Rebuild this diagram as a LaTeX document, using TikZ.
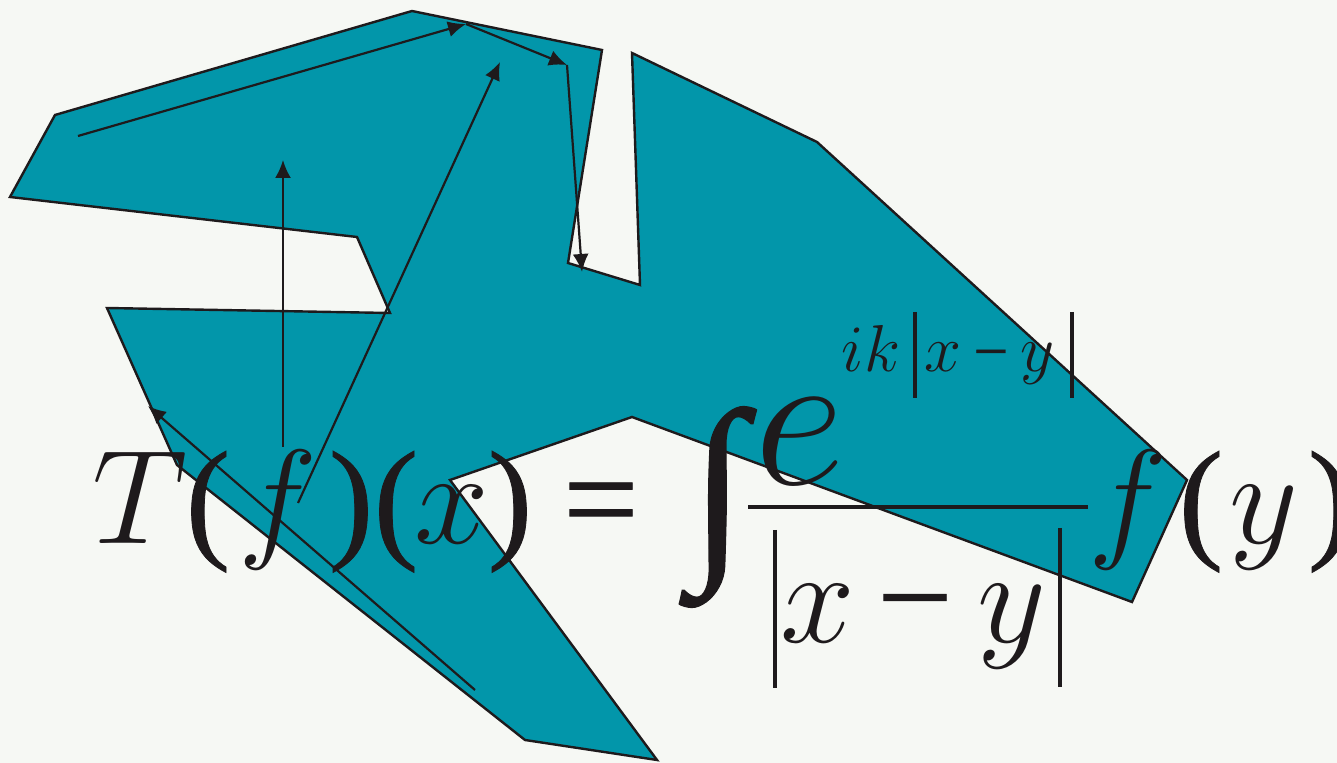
\documentclass[tikz,border=0pt]{standalone}
\usepackage{fontspec}
\newfontfamily\eqfont[FakeBold=0.6]{Liberation Serif}
\usetikzlibrary{arrows.meta}
\definecolor{tealfill}{RGB}{2,150,170}
\definecolor{paper}{RGB}{246,248,244}
\definecolor{inkc}{RGB}{30,26,28}
\newcommand{\mgl}[2]{\scalebox{#1}{\fontsize{20.74}{20.74}\selectfont$#2$}}
\begin{document}
\begin{tikzpicture}[x=0.5pt,y=-0.5pt,
  outline/.style={draw=inkc, line width=1.2pt, line join=miter},
  arr/.style={draw=inkc, line width=1.1pt, -{Latex[length=9pt,width=8pt]}},
  big/.style={text=inkc, inner sep=0pt, anchor=base},
  bigup/.style={font=\fontsize{67}{67}\eqfont, text=inkc, inner sep=0pt, anchor=base},
  supu/.style={font=\fontsize{31}{31}\eqfont, text=inkc, inner sep=0pt, anchor=base},
  barl/.style={draw=inkc, line width=1.7pt},
]
\useasboundingbox (0,0) rectangle (1337,763);
\fill[paper] (0,0) rectangle (1337,763);
\clip (0,0) rectangle (1337,763);

% teal polygon
\filldraw[fill=tealfill, outline]
  (412,11) -- (602,50) -- (568,263) -- (640,285) -- (632,53) -- (817,142)
  -- (1187,480) -- (1132,602) -- (632,417) -- (450,480) -- (657,760)
  -- (525,740) -- (177,465) -- (107,308) -- (390,313) -- (357,237)
  -- (10,197) -- (55,115) -- cycle;

% arrow end points
\coordinate (a1s) at (78,136);
\coordinate (a1e) at (466,24);
\coordinate (a2e) at (567,65);
\coordinate (a3e) at (582,272);
\coordinate (a4s) at (298,503);
\coordinate (a4e) at (500,62);
\coordinate (a5s) at (283,447);
\coordinate (a5e) at (283,160);
\coordinate (a6s) at (475,690);
\coordinate (a6e) at (148,406);

\draw[arr] (a1s) -- (a1e);
\draw[arr] (a1e) -- (a2e);
\draw[arr] (a2e) -- (a3e);
\draw[arr] (a4s) -- (a4e);
\draw[arr] (a5s) -- (a5e);
\draw[arr] (a6s) -- (a6e);

% formula: left side
\node[big]   (T)  at (140,544) {\mgl{3.23}{T}};
\node[bigup] (p1) at (208,544) {(};
\node[big]   (f1) at (278,544) {\mgl{3.23}{f}};
\node[bigup] (p2) at (351,544) {)};
\node[bigup] (p3) at (396,544) {(};
\node[big]   (x1) at (452,544) {\mgl{3.23}{x}};
\node[bigup] (p4) at (510,544) {)};
\node[bigup] (eq) at (601,544) {=};

% integral
\node[text=inkc, inner sep=0pt] (int) at (718,507)
  {\resizebox*{28pt}{100.5pt}{\fontsize{67}{67}\eqfont ∫}};

% numerator
\node[big] (e) at (800,485) {\mgl{4.8}{e}};
\node[big] (ik) at (871,372) {\mgl{1.6}{ik}};
\node[big] (sx) at (943,372) {\mgl{1.6}{x}};
\node[supu] (sm) at (991,372) {−};
\node[big] (sy) at (1038,372) {\mgl{1.6}{y}};
\coordinate (sb1t) at (915,312);
\coordinate (sb1b) at (915,398);
\coordinate (sb2t) at (1072,312);
\coordinate (sb2b) at (1072,398);
\draw[barl] (sb1t) -- (sb1b);
\draw[barl] (sb2t) -- (sb2b);

% fraction bar
\coordinate (fbl) at (748,507);
\coordinate (fbr) at (1088,507);
\draw[draw=inkc, line width=2pt] (fbl) -- (fbr);

% denominator
\node[big]   (dx) at (818,642) {\mgl{3.23}{x}};
\node[bigup] (dm) at (915,642) {−};
\node[big]   (dy) at (1012,642) {\mgl{3.23}{y}};
\coordinate (db1t) at (775,530);
\coordinate (db1b) at (775,688);
\coordinate (db2t) at (1060,528);
\coordinate (db2b) at (1060,687);
\draw[barl] (db1t) -- (db1b);
\draw[barl] (db2t) -- (db2b);

% f(y)
\node[big]   (f2) at (1128,544) {\mgl{3.23}{f}};
\node[bigup] (p5) at (1201,544) {(};
\node[big]   (y2) at (1264,544) {\mgl{3.23}{y}};
\node[bigup] (p6) at (1330,544) {)};
\end{tikzpicture}
\end{document}
